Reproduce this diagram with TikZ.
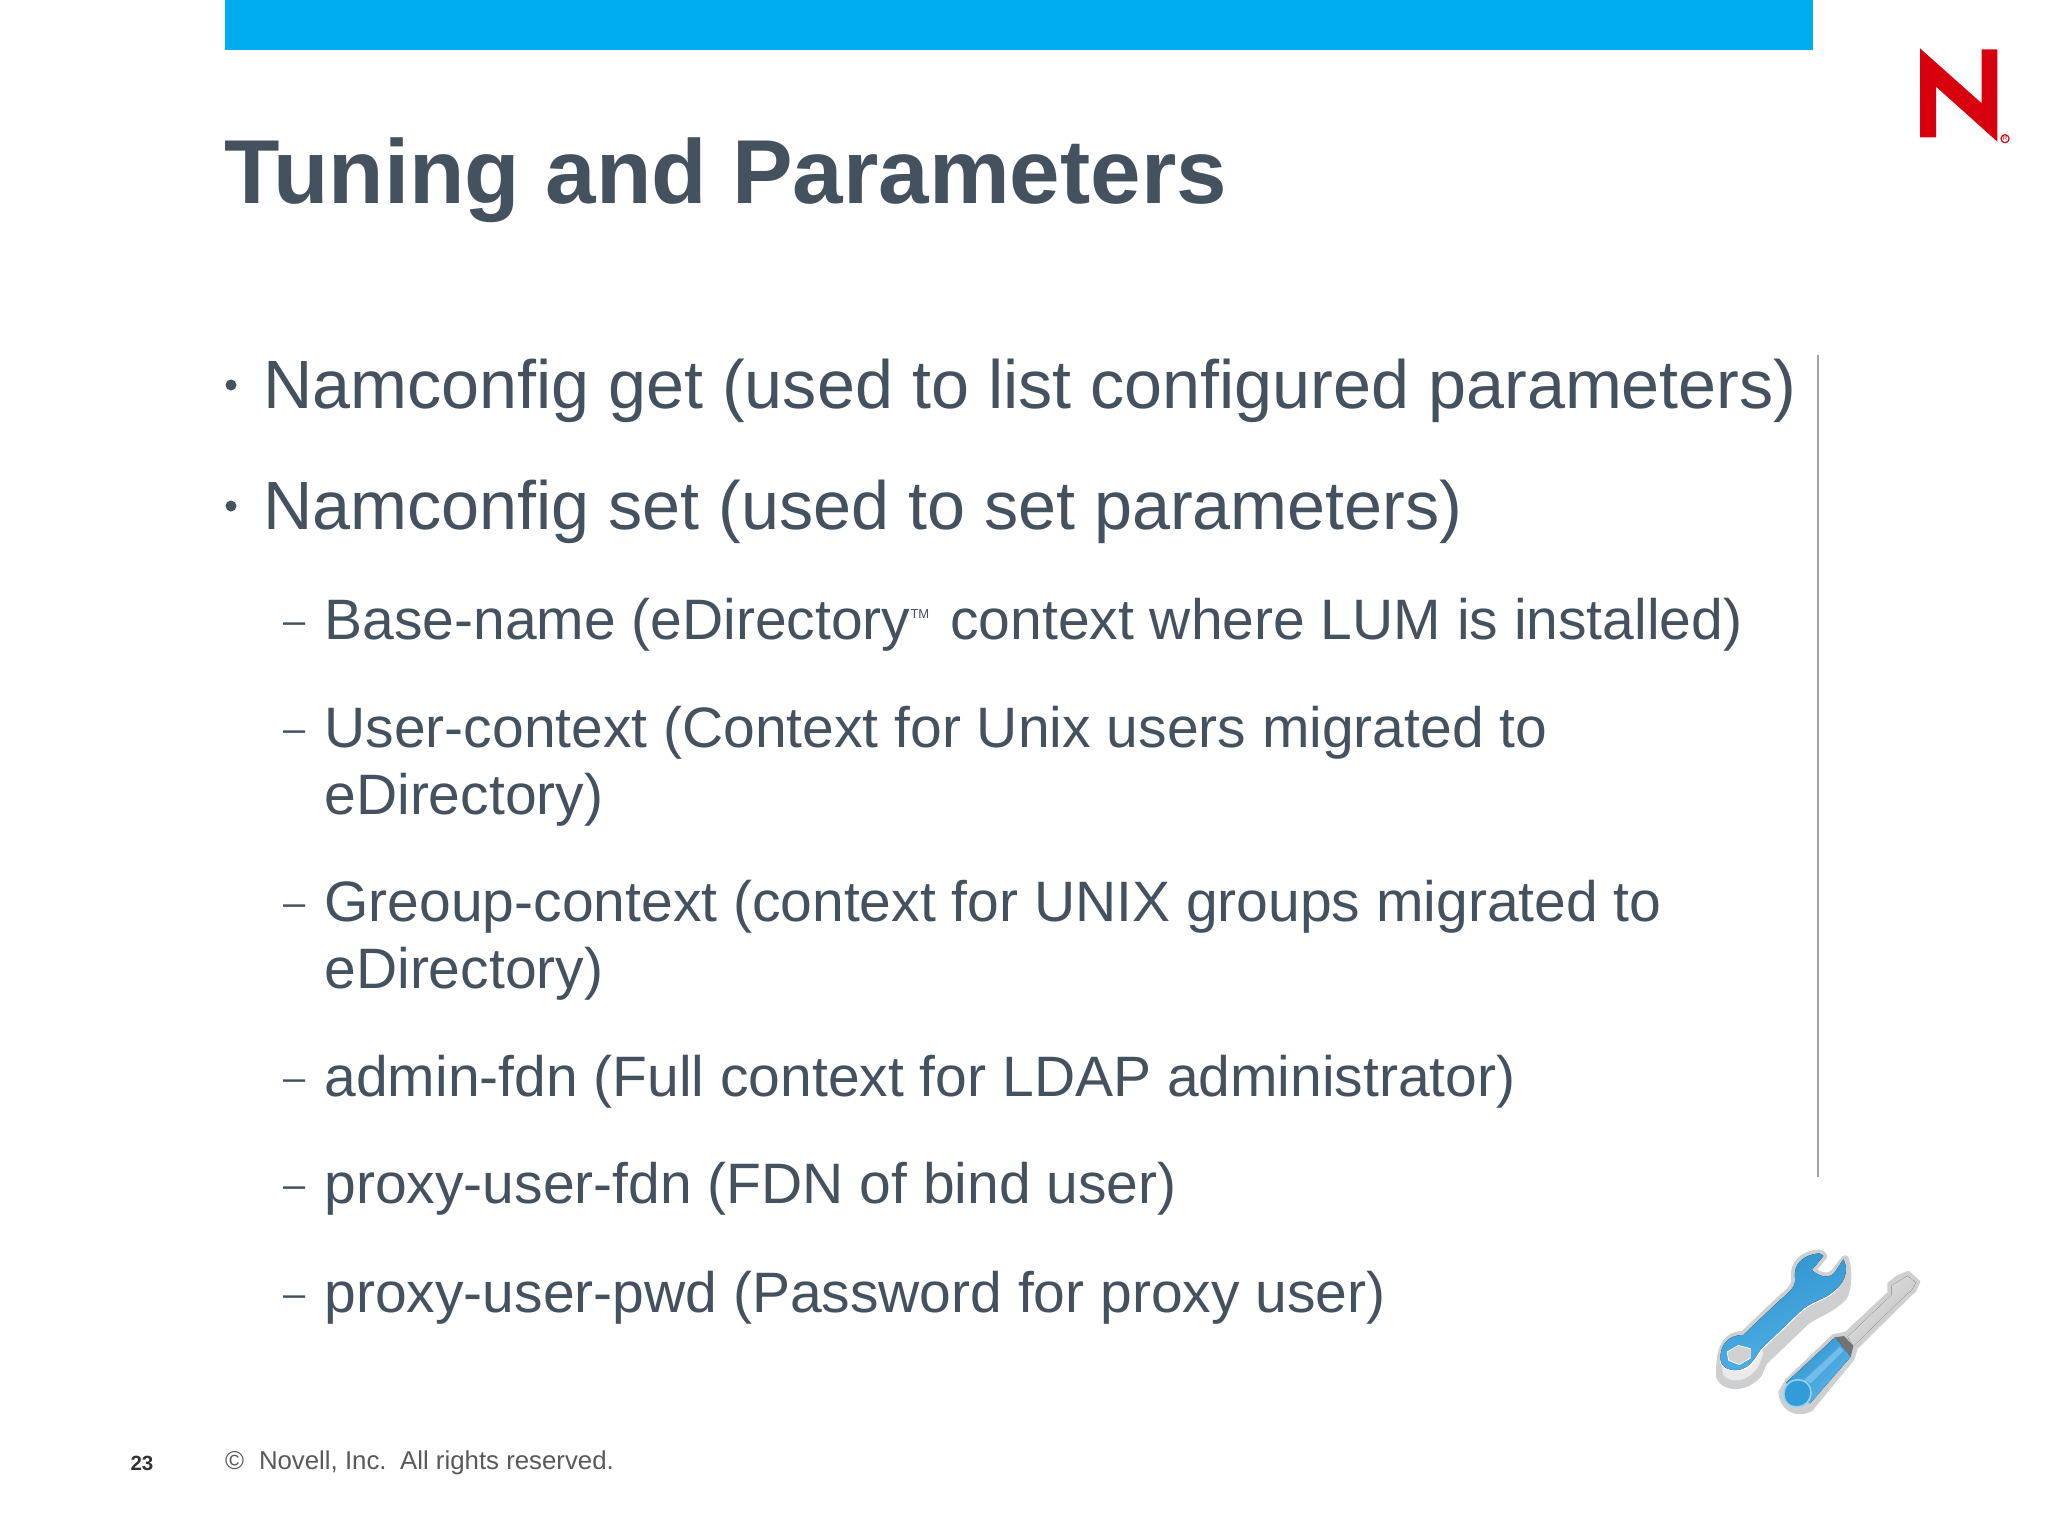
\documentclass[tikz,border=0pt]{standalone}
\usepackage{fontspec}
\usepackage{graphicx}
\setmainfont{Liberation Sans}
\definecolor{txt}{HTML}{44525F}
\definecolor{barblue}{HTML}{00ADEF}
\definecolor{novred}{HTML}{D8000F}
\definecolor{halo}{HTML}{CDCFD1}
\definecolor{toolblue}{HTML}{35A4E4}
\definecolor{rulegray}{HTML}{A0A5A9}
\tikzset{
  line/.style={anchor=base west,inner sep=0pt,outer sep=0pt,text=txt},
  lvlone/.style={line,font=\fontsize{34.15pt}{34pt}\selectfont},
  lvltwo/.style={line,font=\fontsize{28.5pt}{28pt}\selectfont},
  dot one/.style={circle,fill=txt,inner sep=0pt,minimum size=5.5pt},
  mark two/.style={line,font=\fontsize{28.5pt}{28pt}\selectfont},
  foot/.style={anchor=base west,inner sep=0pt,outer sep=0pt,text=black!65,font=\fontsize{12.9pt}{13pt}\selectfont},
}
\newcommand{\shortdash}{\raisebox{2.7pt}{\scalebox{.7}[.65]{–}}}
\begin{document}
\begin{tikzpicture}[x=0.5pt,y=-0.5pt]
\useasboundingbox (0,0) rectangle (2048,1536);
\fill[white] (0,0) rectangle (2048,1536);
\fill[barblue] (225,0) rectangle (1813,50);
\node[line,font=\bfseries\fontsize{45.4pt}{45pt}\selectfont] (title) at (224.5,203.5) {Tuning and Parameters};
\node[dot one] (b1) at (231,385) {};
\node[lvlone] (t1) at (263,408.5) {Namconfig get (used to list configured parameters)};
\node[dot one] (b2) at (231,506) {};
\node[lvlone] (t2) at (263,529.5) {Namconfig set (used to set parameters)};
\node[mark two] (d1) at (283,639) {\shortdash};
\node[lvltwo] (s1) at (324.5,639) {Base-name (eDirectory\raisebox{10.5pt}{\fontsize{6.5pt}{6.5pt}\selectfont TM}\hspace{2.6pt} context where LUM is installed)};
\node[mark two] (d2) at (283,747) {\shortdash};
\node[lvltwo] (s2) at (324.5,747) {User-context (Context for Unix users migrated to};
\node[lvltwo] (s2b) at (324.5,814) {eDirectory)};
\node[mark two] (d3) at (283,921) {\shortdash};
\node[lvltwo] (s3) at (324.5,921) {Greoup-context (context for UNIX groups migrated to};
\node[lvltwo] (s3b) at (324.5,988.5) {eDirectory)};
\node[mark two] (d4) at (283,1096) {\shortdash};
\node[lvltwo] (s4) at (324.5,1096) {admin-fdn (Full context for LDAP administrator)};
\node[mark two] (d5) at (283,1203) {\shortdash};
\node[lvltwo] (s5) at (324.5,1203) {proxy-user-fdn (FDN of bind user)};
\node[mark two] (d6) at (283,1312) {\shortdash};
\node[lvltwo] (s6) at (324.5,1312) {proxy-user-pwd (Password for proxy user)};
\draw[rulegray,line width=1.4pt] (1818,355) -- (1818,1177);
\node[foot,font=\bfseries\fontsize{10.3pt}{11pt}\selectfont,text=black!80] (pg) at (130.5,1470) {23};
\node[foot] (cr) at (225,1469) {©\hspace{7.5pt}Novell, Inc.\hspace{2pt} All rights reserved.};
% logo
\begin{scope}[shift={(1880,20)},x=0.16667pt,y=-0.16667pt]
\fill[novred] (120,85) -- (305,250) -- (305,88) -- (352,88) -- (352,365) -- (168,200) -- (168,352) -- (120,352) -- cycle;
\draw[novred,line width=.6pt] (375,356) circle (12);
\node[inner sep=0pt,text=novred,font=\fontsize{3pt}{3pt}\selectfont] (reg) at (375,356) {R};
\end{scope}
% tools
\begin{scope}[shift={(1680,1220)},x=0.16667pt,y=-0.16667pt]
\def\wrenchpath{(418,100) .. controls (365,105) and (340,135) .. (345,175) .. controls (348,200) and (330,215) .. (300,240) -- (190,345) .. controls (140,345) and (118,380) .. (122,420) .. controls (125,450) and (170,460) .. (200,440) .. controls (222,425) and (232,400) .. (245,385) -- (360,275) .. controls (395,240) and (440,240) .. (470,205) .. controls (498,180) and (505,145) .. (490,118) -- (462,160) .. controls (445,175) and (420,172) .. (395,150) -- (430,108) -- cycle}
\fill[halo,draw=halo,line width=4pt,line join=round] (418,100) .. controls (365,105) and (340,135) .. (345,175) .. controls (348,200) and (330,215) .. (300,240) -- (190,345) .. controls (140,345) and (118,380) .. (120,470) .. controls (135,505) and (200,505) .. (235,460) -- (250,425) -- (360,320) .. controls (395,280) and (440,280) .. (490,230) .. controls (505,200) and (505,150) .. (495,118) -- (462,160) .. controls (445,175) and (420,172) .. (395,150) -- (430,108) -- cycle;
\fill[white!92!black] (122,420) .. controls (125,450) and (170,460) .. (200,440) .. controls (222,425) and (232,400) .. (245,385) -- (250,400) -- (235,440) .. controls (200,490) and (150,490) .. (130,465) -- cycle;
\draw[white,line width=1.3pt] (122,425) .. controls (140,455) and (175,455) .. (205,440) .. controls (222,425) and (232,400) .. (245,385) -- (360,275) .. controls (395,240) and (440,240) .. (470,205);
\fill[left color=toolblue!90!black,right color=toolblue!85!white,shading angle=20] \wrenchpath;
\fill[white] (140,395) -- (175,375) -- (212,385) -- (212,415) -- (178,435) -- (145,422) -- cycle;
\fill[black!18] (142,396) -- (175,377) -- (210,387) -- (210,413) -- (178,432) -- (147,420) -- cycle;
% screwdriver
\fill[halo,draw=halo,line width=1pt,line join=round] (625,190) -- (650,170) -- (685,155) -- (718,185) -- (705,214) -- (695,222) -- (530,385) -- (520,418) -- (395,570) .. controls (350,595) and (300,570) .. (298,515) -- (320,478) -- (460,345) -- (497,338) -- (625,218) -- cycle;
\fill[left color=black!10,right color=black!26,shading angle=45] (635,197) -- (682,168) -- (708,188) -- (692,214) -- (680,222) -- (520,378) -- (503,350) -- (635,225) -- cycle;
\fill[black!55] (465,352) -- (492,348) -- (520,378) -- (512,410) -- cycle;
\fill[left color=toolblue!90!black,right color=toolblue!80!white,shading angle=40] (465,352) -- (512,410) -- (390,550) -- (318,488) -- cycle;
\fill[toolblue!60!white,opacity=.7] (372,480) -- (480,380) -- (490,392) -- (392,490) -- cycle;
\fill[toolblue!95!black,draw=white!50!toolblue,line width=.8pt,rotate around={45:(352,520)}] (352,520) ellipse (42 and 40);
\end{scope}
\end{tikzpicture}
\end{document}
